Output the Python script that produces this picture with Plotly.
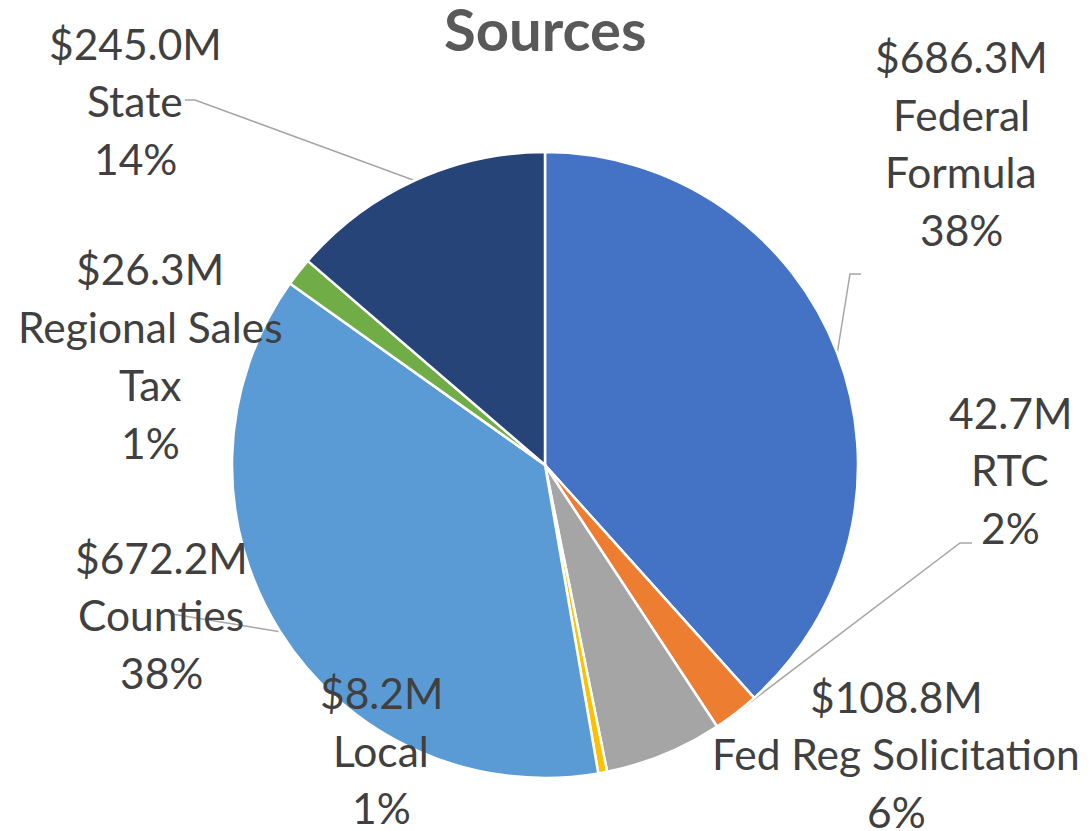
import math
import plotly.graph_objects as go

# ---------------- data ----------------
categories = ["Federal Formula", "RTC", "Fed Reg Solicitation", "Local",
              "Counties", "Regional Sales Tax", "State"]
values = [686.3, 42.7, 108.8, 8.2, 672.2, 26.3, 245.0]
amount_labels = ["$686.3M", "42.7M", "$108.8M", "$8.2M", "$672.2M", "$26.3M", "$245.0M"]
pct_labels = ["38%", "2%", "6%", "1%", "38%", "1%", "14%"]
name_lines = [["Federal", "Formula"], ["RTC"], ["Fed Reg Solicitation"], ["Local"],
              ["Counties"], ["Regional Sales", "Tax"], ["State"]]
colors = ["#4472C4", "#ED7D31", "#A5A5A5", "#FFC000", "#5B9BD5", "#70AD47", "#264478"]

# ---------------- layout (screen pixels) ----------------
OFF = 8                      # default page margin of the html body
W, H = 1092 - OFF, 831 - OFF  # figure size so it fills the window
CX, CY, R = 545, 465, 313
label_x = [961, 1010, 896, 381, 161, 150, 135]
label_y0 = [58.5, 414, 698, 694.5, 559, 271, 45]
line_gap = 57.7
TEXT_DY = -2
# leader lines: label index -> points from label side to elbow (anchor on pie appended)
leaders = {
    0: [(861, 274), (850, 274)],
    1: [(972, 543), (960, 543)],
    4: [(172, 614)],
    6: [(185, 100), (195, 100)],
}


def px(x):
    return (x - OFF) / W


def py(y):
    return 1 - (y - OFF) / H


total = sum(values)
fig = go.Figure(go.Pie(
    labels=categories, values=values, sort=False, direction="clockwise",
    rotation=0, textinfo="none", hoverinfo="label+value+percent",
    marker=dict(colors=colors, line=dict(color="white", width=2.5)),
    domain=dict(x=[px(CX - R), px(CX + R)], y=[py(CY + R), py(CY - R)]),
    showlegend=False,
))

annotations = []
for i in range(len(categories)):
    lines = [amount_labels[i]] + name_lines[i] + [pct_labels[i]]
    for k, t in enumerate(lines):
        annotations.append(dict(
            x=px(label_x[i]), y=py(label_y0[i] + k * line_gap + TEXT_DY),
            xref="paper", yref="paper",
            text=t, showarrow=False, xanchor="center", yanchor="middle",
            font=dict(family="Lato", size=42.5, color="#404040"),
        ))

annotations.append(dict(
    x=px(545), y=py(29), xref="paper", yref="paper", text="<b>Sources</b>",
    showarrow=False, xanchor="center", yanchor="middle",
    font=dict(family="Lato", size=58, color="#595959"),
))

shapes = []
cum = 0.0
for i, v in enumerate(values):
    mid = (cum + v / 2) / total * 2 * math.pi
    cum += v
    if i not in leaders:
        continue
    ax = CX + R * math.sin(mid)
    ay = CY - R * math.cos(mid)
    pts = leaders[i] + [(ax, ay)]
    path = "M " + " L ".join(f"{px(x):.5f},{py(y):.5f}" for x, y in pts)
    shapes.append(dict(type="path", path=path, xref="paper", yref="paper",
                       line=dict(color="#A6A6A6", width=1.5), layer="below"))

fig.update_layout(
    width=W, height=H, margin=dict(l=0, r=0, t=0, b=0),
    paper_bgcolor="white", plot_bgcolor="white",
    annotations=annotations, shapes=shapes,
)

fig.write_html("out.html")
